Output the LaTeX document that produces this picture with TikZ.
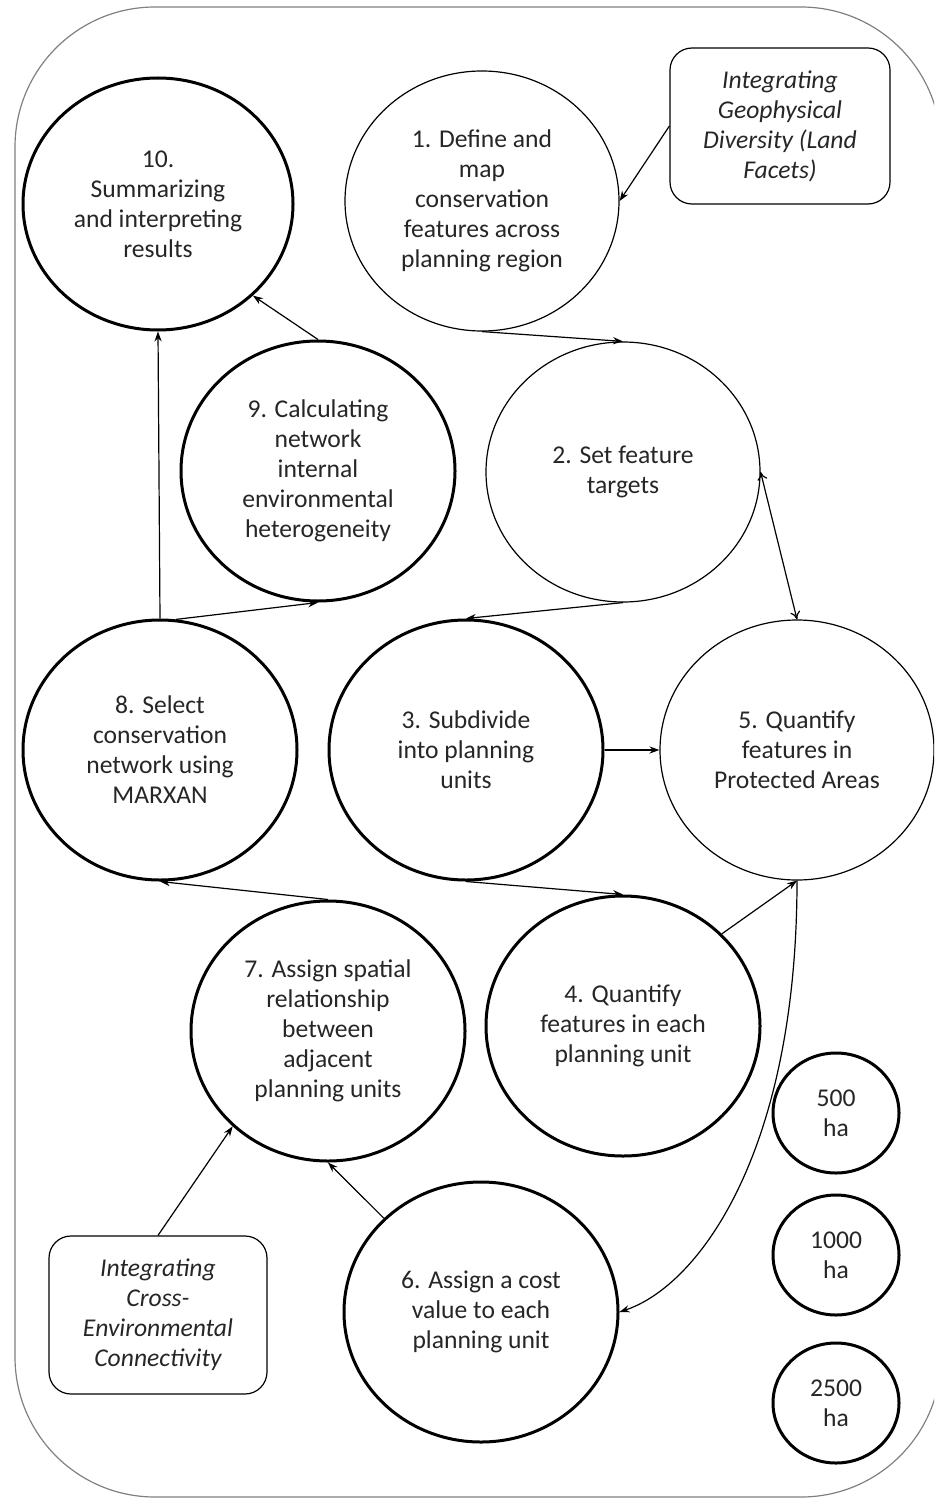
\documentclass[tikz,border=0pt]{standalone}
\usepackage{fontspec}
\setmainfont{Carlito}
\usetikzlibrary{shapes.geometric,arrows.meta}

\begin{document}
\begin{tikzpicture}[x=0.5pt,y=-0.5pt,>={Stealth[length=5pt,width=3.6pt]},line width=0.6pt,
	every node/.style={font=\fontsize{12.8}{15}\selectfont,align=center,inner sep=0pt,text=black!85},
	thickstate/.style={ellipse,draw,line width=1.5pt,minimum width=137pt,minimum height=130pt},
	thinstate/.style={ellipse,draw,line width=0.6pt,minimum width=137pt,minimum height=130pt},
	sizestate/.style={ellipse,draw,line width=1.5pt,minimum width=63pt,minimum height=60pt},
	notebox/.style={draw,line width=0.6pt,rounded corners=11pt,minimum width=110pt,minimum height=78pt,font=\fontsize{12.8}{15}\selectfont\itshape}]
				\clip (0,0) rectangle (934,1498);
				% outer frame
				\draw[gray,rounded corners=70pt] (15,7) rectangle (941,1497);

				\node[thickstate,minimum width=135pt,minimum height=126pt] (s10) at (158,204) {10.\\Summarizing\\and interpreting\\results};
				\node[thinstate]	(s1)	at (482,201) {1. Define and\\map\\conservation\\features across\\planning region};
				\node[notebox]	(geo)	at (780,126) {Integrating\\Geophysical\\Diversity (Land\\Facets)};
				\node[thinstate]	(s2)	at (623,472) {2. Set feature\\targets};
				\node[thickstate]	(s9)	at (318,471) {9. Calculating\\network\\internal\\environmental\\heterogeneity};
				\node[thickstate]	(s8)	at (160,750) {8. Select\\conservation\\network using\\MARXAN};
				\node[thickstate]	(s3)	at (466,750) {3. Subdivide\\into planning\\units};
				\node[thinstate]	(s5)	at (797,750) {5. Quantify\\features in\\Protected Areas};
				\node[thickstate]	(s7)	at (328,1031) {7. Assign spatial\\relationship\\between\\adjacent\\planning units};
				\node[thickstate]	(s4)	at (623,1026) {4. Quantify\\features in each\\planning unit};
				\node[thickstate]	(s6)	at (481,1312) {6. Assign a cost\\value to each\\planning unit};
				\node[notebox,minimum width=109pt,minimum height=79pt]	(conn)	at (158,1315) {Integrating\\Cross-\\Environmental\\Connectivity};
				\node[sizestate]	(ha500)	at (836,1113) {500\\ha};
				\node[sizestate]	(ha1000)	at (836,1255) {1000\\ha};
				\node[sizestate]	(ha2500)	at (836,1403) {2500\\ha};

				\path[->]
				(geo.west) edge (s1.east)
				(s1.south) edge (s2.north)
				(s9.north) edge (s10.-44)
				(s8.north) edge (s10.south)
				(s8.83) edge (s9.south)
				(s2.south) edge (s3.north)
				(s3.east) edge (s5.west)
				(s3.south) edge (s4.north)
				(s7.north) edge (s8.south)
				(s4.43) edge (s5.south)
				(s6.136) edge (s7.south)
				(conn.north) edge (s7.-135);
				\draw[{To[length=4pt,width=5pt]}-{To[length=4pt,width=5pt]}] (s2.east) -- (s5.north);
				\draw[->] (s5.south) .. controls (797,1150) and (700,1285) .. (s6.east);
\end{tikzpicture}
\end{document}
